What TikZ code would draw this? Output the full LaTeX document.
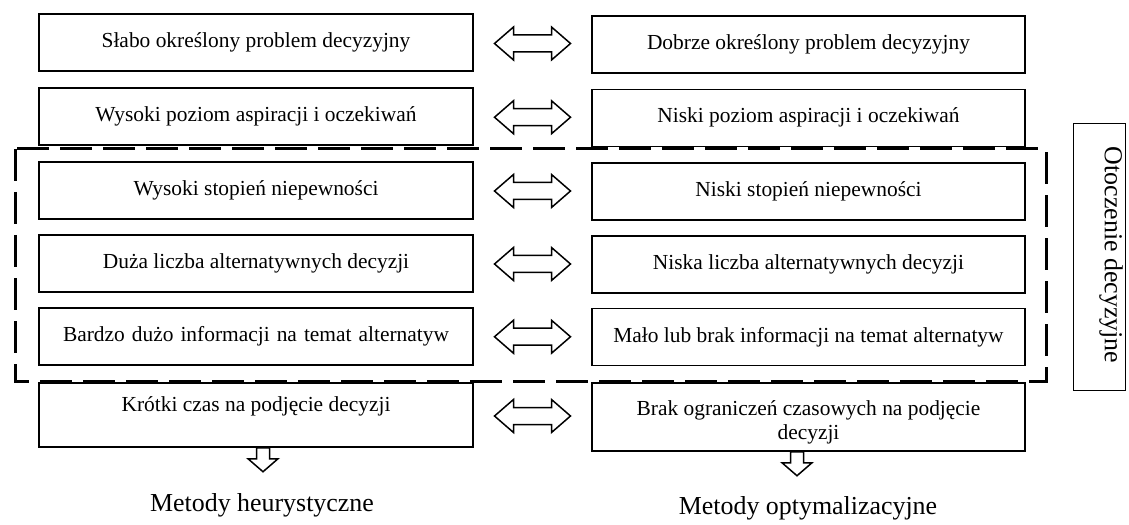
\documentclass[tikz,border=0pt]{standalone}
\usepackage{fontspec}
\setmainfont{Liberation Serif}
\usetikzlibrary{calc}
\newcommand{\boxfont}{\fontsize{21.5}{24.5}\selectfont}
\newcommand{\bigfont}{\fontsize{26}{30}\selectfont}
\tikzset{
  box/.style={draw, line width=1.5bp, minimum width=434bp, minimum height=57bp,
              inner sep=0pt, text height=15bp, text depth=5bp, font=\boxfont},
  plainbox/.style={draw, line width=1.5bp, inner sep=0pt},
  boxtext/.style={inner sep=0pt, font=\boxfont, align=center, anchor=north},
  biglabel/.style={inner sep=0pt, font=\bigfont},
  frame/.style={line width=3bp, dash pattern=on 32bp off 11bp},
  arrowline/.style={draw, line width=1.5bp, fill=white, line join=miter},
  pics/dblarrow/.style={code={
    \path[arrowline] (-38,0) -- (-19,-16.5) -- (-19,-8.5) -- (19,-8.5) -- (19,-16.5)
      -- (38,0) -- (19,16.5) -- (19,8.5) -- (-19,8.5) -- (-19,16.5) -- cycle;}},
  pics/downarrow/.style={code={
    \path[arrowline] (-6.5,0) -- (6.5,0) -- (6.5,11) -- (15,11) -- (0,24)
      -- (-15,11) -- (-6.5,11) -- cycle;}}
}
\begin{document}
\begin{tikzpicture}[x=1bp,y=-1bp]
\useasboundingbox (0,0) rectangle (1129,525);

% left column
\node[box] (l1) at (256,42.5) {Słabo określony problem decyzyjny};
\node[box] (l2) at (256,116.5) {Wysoki poziom aspiracji i oczekiwań};
\node[box] (l3) at (256,190.5) {Wysoki stopień niepewności};
\node[box] (l4) at (256,263.5) {Duża liczba alternatywnych decyzji};
\node[box] (l5) at (256,336.5) {\spaceskip=7bp Bardzo dużo informacji na temat alternatyw};
\node[plainbox, minimum width=434bp, minimum height=64bp] (l6) at (256,415) {};
\node[boxtext] (l6t) at ($(l6.north)+(0,14)$) {Krótki czas na podjęcie decyzji};

% right column
\node[box, minimum width=433bp] (r1) at (808.5,44.5) {Dobrze określony problem decyzyjny};
\node[box, minimum width=433bp] (r2) at (808.5,118) {Niski poziom aspiracji i oczekiwań};
\node[box, minimum width=433bp] (r3) at (808.5,191.5) {Niski stopień niepewności};
\node[box, minimum width=433bp] (r4) at (808.5,264.5) {Niska liczba alternatywnych decyzji};
\node[box, minimum width=433bp] (r5) at (808.5,337) {Mało lub brak informacji na temat alternatyw};
\node[plainbox, minimum width=433bp, minimum height=68bp] (r6) at (808.5,417) {};
\node[boxtext] (r6t) at ($(r6.north)+(0,18)$) {Brak ograniczeń czasowych na podjęcie\\decyzji};

% two-way arrows between the columns
\foreach \i in {1,...,6}{
  \pic at ($(l\i.east)!0.5!(r\i.west)$) {dblarrow};
}

% frame around the decision environment rows
\draw[frame] (15,149) rectangle (1046,382);

% environment label
\node[draw, line width=1bp, minimum width=52bp, minimum height=266bp, inner sep=0pt]
  (env) at (1099,257) {};
\node[biglabel, rotate=-90] (envt) at (1111,255) {Otoczenie decyzyjne};

% outcomes
\pic at ($(l6.south)+(7,0)$) {downarrow};
\pic at ($(r6.south)+(-11.5,0)$) {downarrow};
\node[biglabel] (mh) at (262,505) {Metody heurystyczne};
\node[biglabel] (mo) at (808,508) {Metody optymalizacyjne};
\end{tikzpicture}
\end{document}
